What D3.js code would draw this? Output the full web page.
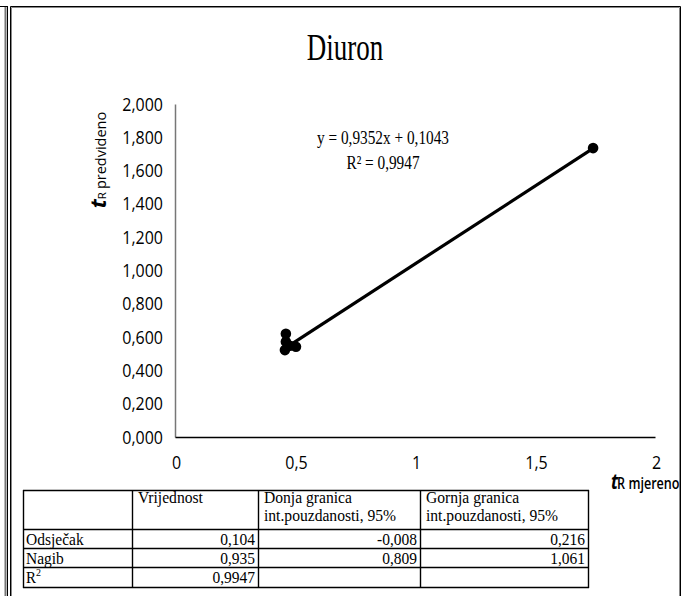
<!DOCTYPE html>
<html>
<head>
<meta charset="utf-8">
<script src="https://cdn.jsdelivr.net/npm/d3@7"></script>
<style>
html,body{margin:0;padding:0;background:#fff;}
svg{display:block;}
</style>
</head>
<body>
<script>
// ---- data ----
const measured = [0.462, 0.462, 0.458, 0.479, 0.504, 1.742];
const predicted = [0.620, 0.572, 0.522, 0.548, 0.542, 1.735];
const slope = 0.9352;
const intercept = 0.1043;
const xTicks = [0, 0.5, 1, 1.5, 2];
const yTicks = [0, 0.2, 0.4, 0.6, 0.8, 1.0, 1.2, 1.4, 1.6, 1.8, 2.0];
const titleText = "Diuron";
const eqText = "y = 0,9352x + 0,1043";
const r2Text = "R² = 0,9947";
const tableHeader = ["", ["Vrijednost"], ["Donja granica", "int.pouzdanosti, 95%"], ["Gornja granica", "int.pouzdanosti, 95%"]];
const rowLabels = ["Odsječak", "Nagib", "R2"];
const colValues = [["0,104", "-0,008", "0,216"], ["0,935", "0,809", "1,061"], ["0,9947", "", ""]];

const W = 685, H = 596;
const svg = d3.select("body").append("svg").attr("width", W).attr("height", H);

// frames
svg.append("line").attr("x1",5.5).attr("x2",5.5).attr("y1",6).attr("y2",H).attr("stroke","#777").attr("stroke-width",2);
svg.append("line").attr("x1",7.5).attr("x2",7.5).attr("y1",6).attr("y2",H).attr("stroke","#000").attr("stroke-width",1);
svg.append("line").attr("x1",0).attr("x2",7).attr("y1",6.5).attr("y2",6.5).attr("stroke","#000").attr("stroke-width",1);
svg.append("path").attr("d",`M10.5,${H} V6.5 H680.5 V${H}`).attr("fill","none").attr("stroke","#000").attr("stroke-width",1);
svg.append("path").attr("d",`M11.5,${H} V7.5 H679.5 V${H}`).attr("fill","none").attr("stroke","#888").attr("stroke-width",1);

const tickFont = "'Open Sans', 'DejaVu Sans Condensed', sans-serif";
const serif = "'Liberation Serif', 'Times New Roman', serif";

// helper: text stretched, baseline at (x,y)
function stext(parent, x, y, sy, str, opts) {
  const sx = opts.sx || 1;
  const g = parent.append("g").attr("transform", `translate(${x},${y}) scale(${sx},${sy})`);
  const t = g.append("text").attr("x",0).attr("y",0)
    .attr("font-family", opts.font).attr("font-size", opts.size)
    .attr("text-anchor", opts.anchor || "start").attr("fill","#000");
  if (str !== null) t.text(str);
  return t;
}

const x = d3.scaleLinear().domain([0, 2]).range([175, 655]);
const y = d3.scaleLinear().domain([0, 2]).range([437, 104]);

// title
stext(svg, 345, 60, 1.4, titleText, {font: serif, size: 27, anchor: "middle"});

// y axis
const yAxis = svg.append("g").attr("transform","translate(175,0)")
  .call(d3.axisLeft(y).tickValues(yTicks).tickSize(0).tickPadding(11)
    .tickFormat(d => d3.format(".3f")(d).replace(".", ",")));
yAxis.select(".domain").attr("stroke","#777").attr("stroke-width",1.5);
yAxis.selectAll(".tick text").attr("font-family", tickFont).attr("font-size", 16).attr("fill","#000")
  .attr("x",0).attr("dy",null).attr("transform","translate(-12,6) scale(1,1.12)");

// x axis
const xAxis = svg.append("g").attr("transform","translate(0,437)")
  .call(d3.axisBottom(x).tickValues(xTicks).tickSize(0).tickPadding(17)
    .tickFormat(d => String(d).replace(".", ",")));
xAxis.select(".domain").attr("stroke","#000").attr("stroke-width",1.5);
xAxis.selectAll(".tick text").attr("font-family", tickFont).attr("font-size", 16).attr("fill","#000")
  .attr("y",0).attr("dy",null).attr("transform","translate(1,32) scale(1,1.12)");

// axis titles
const yl = svg.append("text").attr("transform","translate(106,160) rotate(-90)")
  .attr("text-anchor","middle").attr("font-family", tickFont).attr("fill","#000");
yl.append("tspan").attr("font-size",22).attr("font-style","italic").attr("font-weight","bold").text("t");
yl.append("tspan").attr("font-size",11.5).text("R ");
yl.append("tspan").attr("font-size",14.5).text("predvideno");

const xl = stext(svg, 611, 489, 1.1, null, {font: tickFont, size: 13, sx: 0.9});
xl.append("tspan").attr("font-size",19).attr("font-style","italic").attr("font-weight","bold").text("t");
xl.append("tspan").attr("font-size",14).attr("dx",-1).attr("font-weight","600").text("R mjereno");

// trendline
const xmin = d3.min(measured), xmax = d3.max(measured);
svg.append("line")
  .attr("x1", x(xmin)).attr("y1", y(slope*xmin + intercept))
  .attr("x2", x(xmax)).attr("y2", y(slope*xmax + intercept))
  .attr("stroke","#000").attr("stroke-width",3.2);

// points
svg.selectAll("circle.pt").data(measured).enter().append("circle")
  .attr("class","pt").attr("cx", d => x(d)).attr("cy", (d,i) => y(predicted[i]))
  .attr("r", 5.3).attr("fill","#000");

// equation
stext(svg, 383, 144, 1.3, eqText, {font: serif, size: 15.3, anchor: "middle"});
stext(svg, 383, 169, 1.3, r2Text, {font: serif, size: 15.3, anchor: "middle"});

// table
const colX = [23, 132, 258, 420, 588];
const rowY = [490, 529, 548, 567, 587];
const tg = svg.append("g");
rowY.forEach(yy => {
  tg.append("line").attr("x1",colX[0]).attr("x2",colX[4]+1).attr("y1",yy+0.5).attr("y2",yy+0.5).attr("stroke","#000").attr("stroke-width",1.4);
});
colX.forEach(xx => {
  tg.append("line").attr("x1",xx+0.5).attr("x2",xx+0.5).attr("y1",rowY[0]).attr("y2",rowY[4]+1).attr("stroke","#000").attr("stroke-width",1.4);
});
const tf = {font: serif, size: 15};
tableHeader.forEach((h,i) => {
  if (!h) return;
  h.forEach((t,j) => stext(tg, colX[i]+6, 503 + j*17.5, 1.08, t, {font: serif, size: 15, sx: 1.04}));
});
rowLabels.forEach((lab,i) => {
  const yy = rowY[i+1] + 15.5;
  if (lab === "R2") {
    const t = stext(tg, colX[0]+3, yy, 1.1, null, tf);
    t.append("tspan").text("R");
    t.append("tspan").attr("font-size",10).attr("dy",-6).text("2");
  } else stext(tg, colX[0]+3, yy, 1.1, lab, {font: serif, size: 15.5});
});
colValues.forEach((row,i) => {
  row.forEach((v,j) => {
    if (v) stext(tg, colX[j+2]-3, rowY[i+1] + 15.5, 1.1, v, {font: serif, size: 15.5, anchor: "end"});
  });
});
</script>
</body>
</html>
